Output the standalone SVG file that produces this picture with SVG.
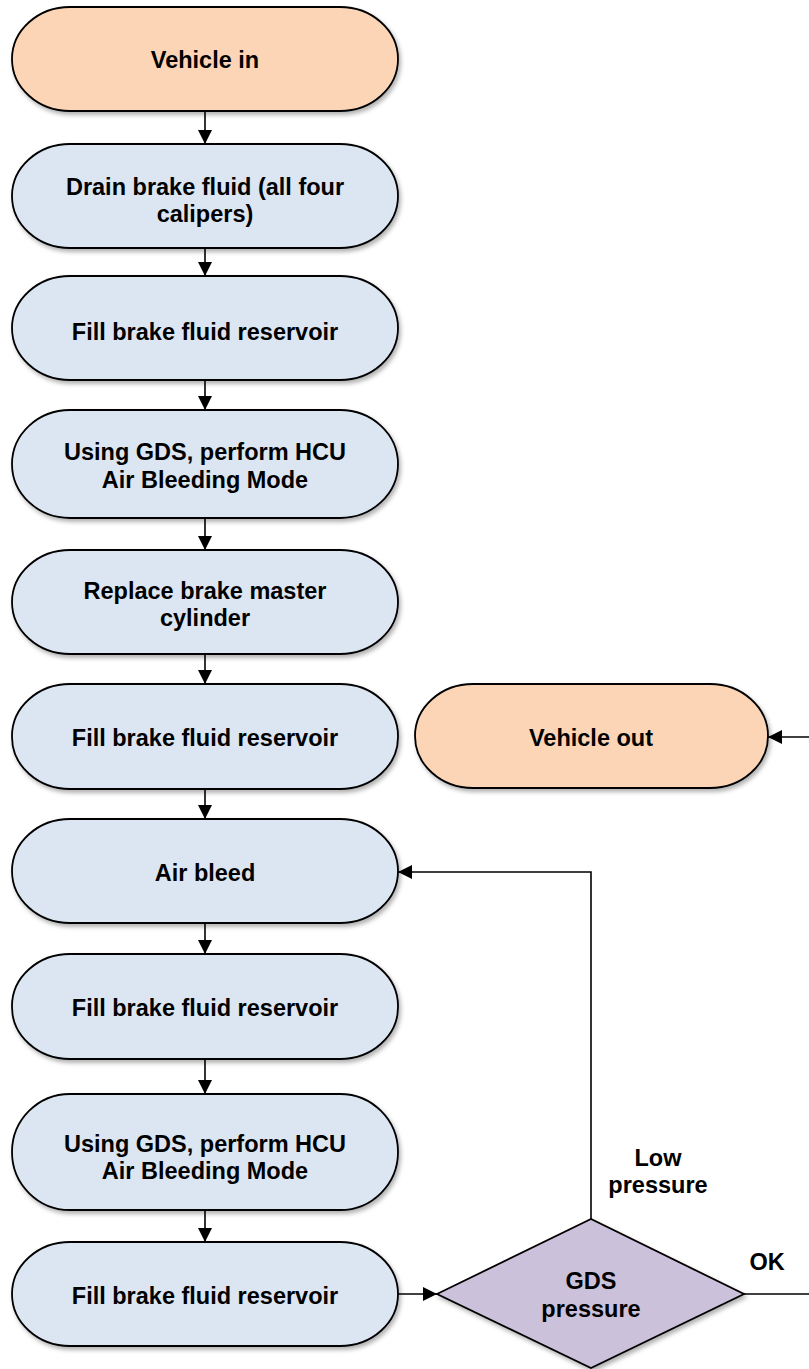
<svg xmlns="http://www.w3.org/2000/svg" width="809" height="1369" viewBox="0 0 809 1369">
<defs>
<style>
.n{stroke:#000;stroke-width:1.8;filter:url(#sh)}
.o{fill:#FBD5B5}
.b{fill:#DCE6F2}
.d{fill:#CCC1DA}
.t{font-family:"Liberation Sans",Arial,sans-serif;font-weight:bold;font-size:23.5px;fill:#000;text-anchor:middle}
.c{fill:none;stroke:#000;stroke-width:1.6}
.a{marker-end:url(#ah)}
</style>
<filter id="sh" x="-10%" y="-10%" width="125%" height="130%">
<feDropShadow dx="2" dy="3" stdDeviation="2" flood-color="#000" flood-opacity="0.3"/>
</filter>
<marker id="ah" markerUnits="userSpaceOnUse" markerWidth="14" markerHeight="14" viewBox="0 0 14 14" refX="14" refY="7" orient="auto">
<path d="M0,0 L14,7 L0,14 Z" fill="#000"/>
</marker>
</defs>
<rect width="809" height="1369" fill="#fff"/>
<g id="connectors">
<line class="c a" x1="205" y1="111" x2="205" y2="144"/>
<line class="c a" x1="205" y1="248" x2="205" y2="276"/>
<line class="c a" x1="205" y1="380" x2="205" y2="410"/>
<line class="c a" x1="205" y1="518" x2="205" y2="550"/>
<line class="c a" x1="205" y1="654" x2="205" y2="684"/>
<line class="c a" x1="205" y1="789" x2="205" y2="819"/>
<line class="c a" x1="205" y1="923" x2="205" y2="954"/>
<line class="c a" x1="205" y1="1059" x2="205" y2="1094"/>
<line class="c a" x1="205" y1="1210" x2="205" y2="1242"/>
<line class="c a" x1="398" y1="1294" x2="437" y2="1294"/>
<polyline class="c a" points="591,1219 591,872 398,872"/>
<line class="c" x1="744" y1="1294" x2="809" y2="1294"/>
<line class="c a" x1="809" y1="737" x2="768" y2="737"/>
<text class="t" x="658" y="1166">Low</text>
<text class="t" x="658" y="1193">pressure</text>
<text class="t" x="767" y="1270">OK</text>
</g>
<g id="n1"><rect class="n o" x="12" y="7" width="386" height="104" rx="58" ry="52"/><text class="t" x="205" y="67.5">Vehicle in</text></g>
<g id="n2"><rect class="n b" x="12" y="144" width="386" height="104" rx="58" ry="52"/><text class="t" x="205" y="194.5">Drain brake fluid (all four</text><text class="t" x="205" y="222">calipers)</text></g>
<g id="n3"><rect class="n b" x="12" y="276" width="386" height="104" rx="58" ry="52"/><text class="t" x="205" y="339.5">Fill brake fluid reservoir</text></g>
<g id="n4"><rect class="n b" x="12" y="410" width="386" height="108" rx="58" ry="54"/><text class="t" x="205" y="459.5">Using GDS, perform HCU</text><text class="t" x="205" y="487.5">Air Bleeding Mode</text></g>
<g id="n5"><rect class="n b" x="12" y="550" width="386" height="104" rx="58" ry="52"/><text class="t" x="205" y="598.5">Replace brake master</text><text class="t" x="205" y="626">cylinder</text></g>
<g id="n6"><rect class="n b" x="12" y="684" width="386" height="105" rx="58" ry="52"/><text class="t" x="205" y="745.5">Fill brake fluid reservoir</text></g>
<g id="nout"><rect class="n o" x="415" y="684" width="353" height="104" rx="58" ry="52"/><text class="t" x="591" y="745.5">Vehicle out</text></g>
<g id="n7"><rect class="n b" x="12" y="819" width="386" height="104" rx="58" ry="52"/><text class="t" x="205" y="880.5">Air bleed</text></g>
<g id="n8"><rect class="n b" x="12" y="954" width="386" height="105" rx="58" ry="52"/><text class="t" x="205" y="1015.5">Fill brake fluid reservoir</text></g>
<g id="n9"><rect class="n b" x="12" y="1094" width="386" height="116" rx="58" ry="58"/><text class="t" x="205" y="1151.5">Using GDS, perform HCU</text><text class="t" x="205" y="1179">Air Bleeding Mode</text></g>
<g id="n10"><rect class="n b" x="12" y="1242" width="386" height="104" rx="58" ry="52"/><text class="t" x="205" y="1303.5">Fill brake fluid reservoir</text></g>
<g id="gds"><polygon class="n d" points="437,1294 591,1219 744,1294 591,1368"/><text class="t" x="591" y="1289">GDS</text><text class="t" x="591" y="1317">pressure</text></g>
</svg>
